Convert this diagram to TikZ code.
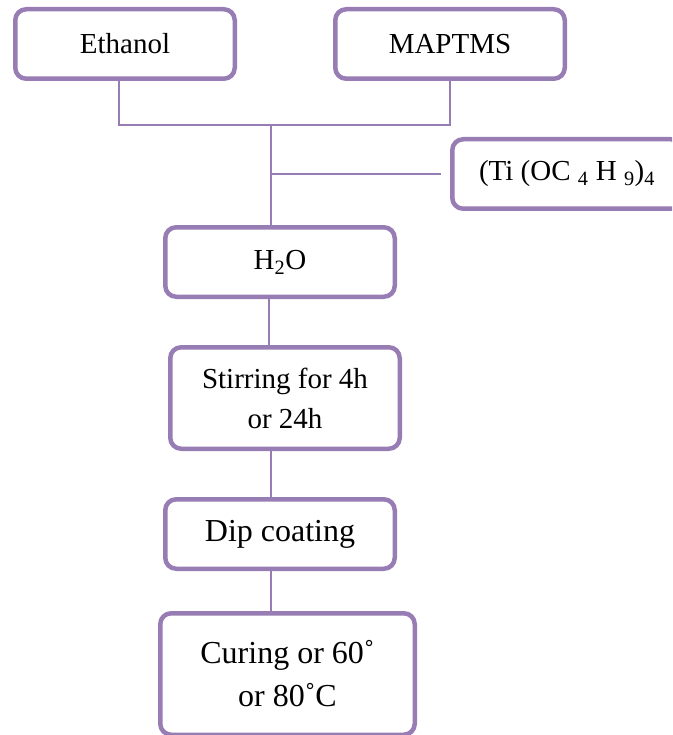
\documentclass[tikz,border=0pt]{standalone}
\usepackage{fontspec}
\setmainfont{Liberation Serif}
\usetikzlibrary{positioning}
\usetikzlibrary{calc}
\definecolor{lila}{RGB}{152,125,180}
\tikzset{
	%Define style for boxes
	kasse/.style={
		rectangle,
		rounded corners=11pt,
		draw=lila, line width=4.5pt,
		minimum width=229.5pt,
		minimum height=69.5pt,
		inner sep=0pt,
		align=center,
		font=\fontsize{29}{40}\selectfont},
	%Define style for larger text
	stor/.style={font=\fontsize{32}{43}\selectfont},
	% Define line style
	linje/.style={
		draw=lila,
		line width=2pt}
}
\begin{document}
\begin{tikzpicture}[x=1pt,y=1pt]
		\clip (0,0) rectangle (672,-735);
		% node Ethanol
		\node[kasse, minimum width=219.5pt] (ethanol) at (125,-44) {Ethanol};
		% node MAPTMS
		\node[kasse, right=96pt of ethanol] (maptms) {MAPTMS};
		% node Ti(OC4H9)4
		\node[kasse, below right=56pt and -117pt of maptms] (ti) {(Ti (OC \textsubscript{4} H \textsubscript{9})\textsubscript{4}};
		% node H2O
		\node[kasse, below right=144pt and -74pt of ethanol] (h2o) {H\textsubscript{2}O};
		% node stirring
		\node[kasse, minimum height=101.5pt, below=46pt of h2o, xshift=5pt] (stir) {Stirring for 4h\\or 24h};
		% node dip coating
		\node[kasse, stor, below=46pt of stir, xshift=-5pt] (dip) {Dip coating};
		% node curing
		\node[kasse, stor, minimum width=254.5pt, minimum height=121.5pt, below=40pt of dip, xshift=7.5pt] (cure) {Curing or 60˚\\or 80˚C};
		\coordinate (join) at (271,-125);
		\draw[linje] ($(ethanol.south)+(-6,0)$) |- (join) -| (maptms.south);
		\draw[linje] (join) -- (join |- h2o.north);
		\draw[linje] (join |- ti.west) -- ($(ti.west)+(-9,0)$);
		\draw[linje] ($(join |- h2o.south)+(-2,0)$) -- ($(join |- stir.north)+(-2,0)$);
		\draw[linje] (join |- stir.south) -- (join |- dip.north);
		\draw[linje] (join |- dip.south) -- (join |- cure.north);
	\end{tikzpicture}
\end{document}
